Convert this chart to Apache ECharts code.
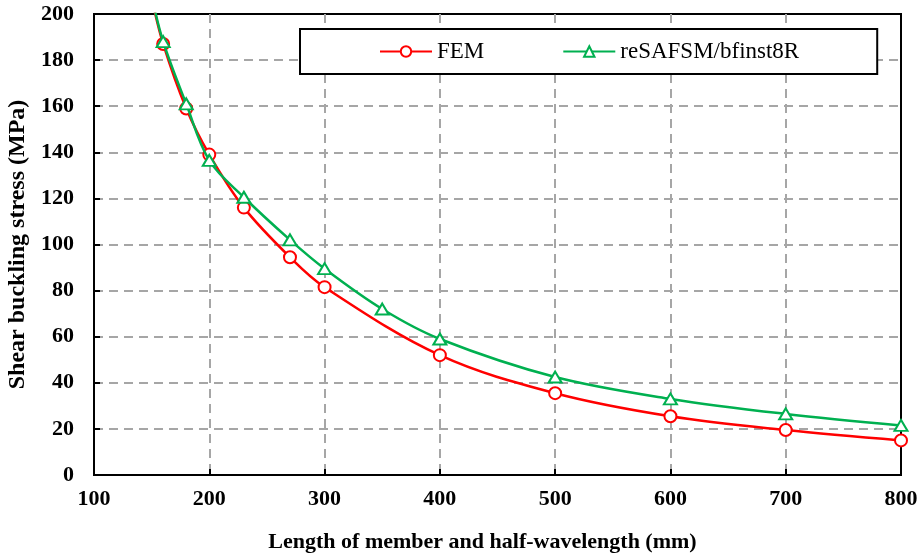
<!DOCTYPE html>
<html>
<head>
<meta charset="utf-8">
<script src="https://cdn.jsdelivr.net/npm/echarts@6/dist/echarts.min.js"></script>
<style>
  html, body { margin: 0; padding: 0; background: #fff; }
  #chart { width: 923px; height: 558px; }
</style>
</head>
<body>
<div id="chart"></div>
<script>
// Member length (mm) and shear buckling stress (MPa) for each method
const femLength = [150, 160, 180, 200, 230, 270, 300, 400, 500, 600, 700, 800];
const femStress = [207, 187, 159, 139, 116, 94.5, 81.5, 52, 35.5, 25.5, 19.5, 15];
const safsmLength = [150, 160, 180, 200, 230, 270, 300, 350, 400, 500, 600, 700, 800];
const safsmStress = [208, 188, 161, 136.5, 120.5, 102, 89.5, 72, 59, 42.5, 33, 26.5, 21.5];

const seriesNames = ['FEM', 'reSAFSM/bfinst8R'];
const xTicks = { min: 100, max: 800, step: 100 };
const yTicks = { min: 0, max: 200, step: 20 };

const serif = '"Liberation Serif", "Times New Roman", serif';

// First point of each curve lies above the plotted range: line only, no marker
function toPairs(xs, ys) {
  return xs.map((x, i) => {
    const p = { value: [x, ys[i]] };
    if (ys[i] > yTicks.max) p.symbol = 'none';
    return p;
  });
}

const chart = echarts.init(document.getElementById('chart'), null, { renderer: 'canvas' });

// Dashed grey grid, interior lines only (the frame is drawn solid)
const gridLine = {
  show: true, showMinLine: false, showMaxLine: false,
  lineStyle: { color: '#a6a6a6', width: 2, type: [9, 6] }
};

chart.setOption({
  animation: false,
  backgroundColor: '#fff',
  grid: {
    left: 94, right: 22, top: 14, bottom: 83,
    outerBoundsMode: 'none',
    show: true, borderColor: '#000', borderWidth: 2
  },
  legend: {
    data: seriesNames,
    left: 300, top: 29,
    orient: 'horizontal',
    backgroundColor: '#fff',
    borderColor: '#000', borderWidth: 2,
    padding: [11, 78, 11, 79],
    itemWidth: 52, itemHeight: 13, itemGap: 78,
    textStyle: { fontFamily: serif, fontSize: 23, color: '#000' }
  },
  xAxis: {
    type: 'value',
    min: xTicks.min, max: xTicks.max, interval: xTicks.step,
    name: 'Length of member and half-wavelength (mm)',
    nameLocation: 'middle', nameGap: 56,
    nameTextStyle: {
      fontFamily: serif, fontSize: 22, fontWeight: 'bold', color: '#000',
      padding: [0, 30, 0, 0]
    },
    axisLine: { show: true, lineStyle: { color: '#000', width: 2 } },
    axisTick: { show: true, inside: true, length: 6, lineStyle: { color: '#000', width: 2 } },
    axisLabel: { fontFamily: serif, fontSize: 22, fontWeight: 'bold', color: '#000', margin: 13 },
    splitLine: gridLine
  },
  yAxis: {
    type: 'value',
    min: yTicks.min, max: yTicks.max, interval: yTicks.step,
    name: 'Shear buckling stress (MPa)',
    nameLocation: 'middle', nameGap: 55, nameRotate: 90,
    nameTextStyle: { fontFamily: serif, fontSize: 24, fontWeight: 'bold', color: '#000' },
    axisLine: { show: true, lineStyle: { color: '#000', width: 2 } },
    axisTick: { show: true, inside: true, length: 6, lineStyle: { color: '#000', width: 2 } },
    axisLabel: { fontFamily: serif, fontSize: 22, fontWeight: 'bold', color: '#000', margin: 20 },
    splitLine: gridLine
  },
  series: [
    {
      name: seriesNames[0],
      type: 'line',
      data: toPairs(femLength, femStress),
      smooth: 0.35,
      clip: true,
      symbol: 'circle', symbolSize: 12,
      lineStyle: { color: '#ff0000', width: 2.5 },
      itemStyle: { color: '#fff', borderColor: '#ff0000', borderWidth: 2 },
      z: 3
    },
    {
      name: seriesNames[1],
      type: 'line',
      data: toPairs(safsmLength, safsmStress),
      smooth: 0.35,
      clip: true,
      symbol: 'triangle', symbolSize: [13, 11],
      lineStyle: { color: '#00b050', width: 2.5 },
      itemStyle: { color: '#fff', borderColor: '#00b050', borderWidth: 2 },
      z: 4
    }
  ]
});
</script>
</body>
</html>
